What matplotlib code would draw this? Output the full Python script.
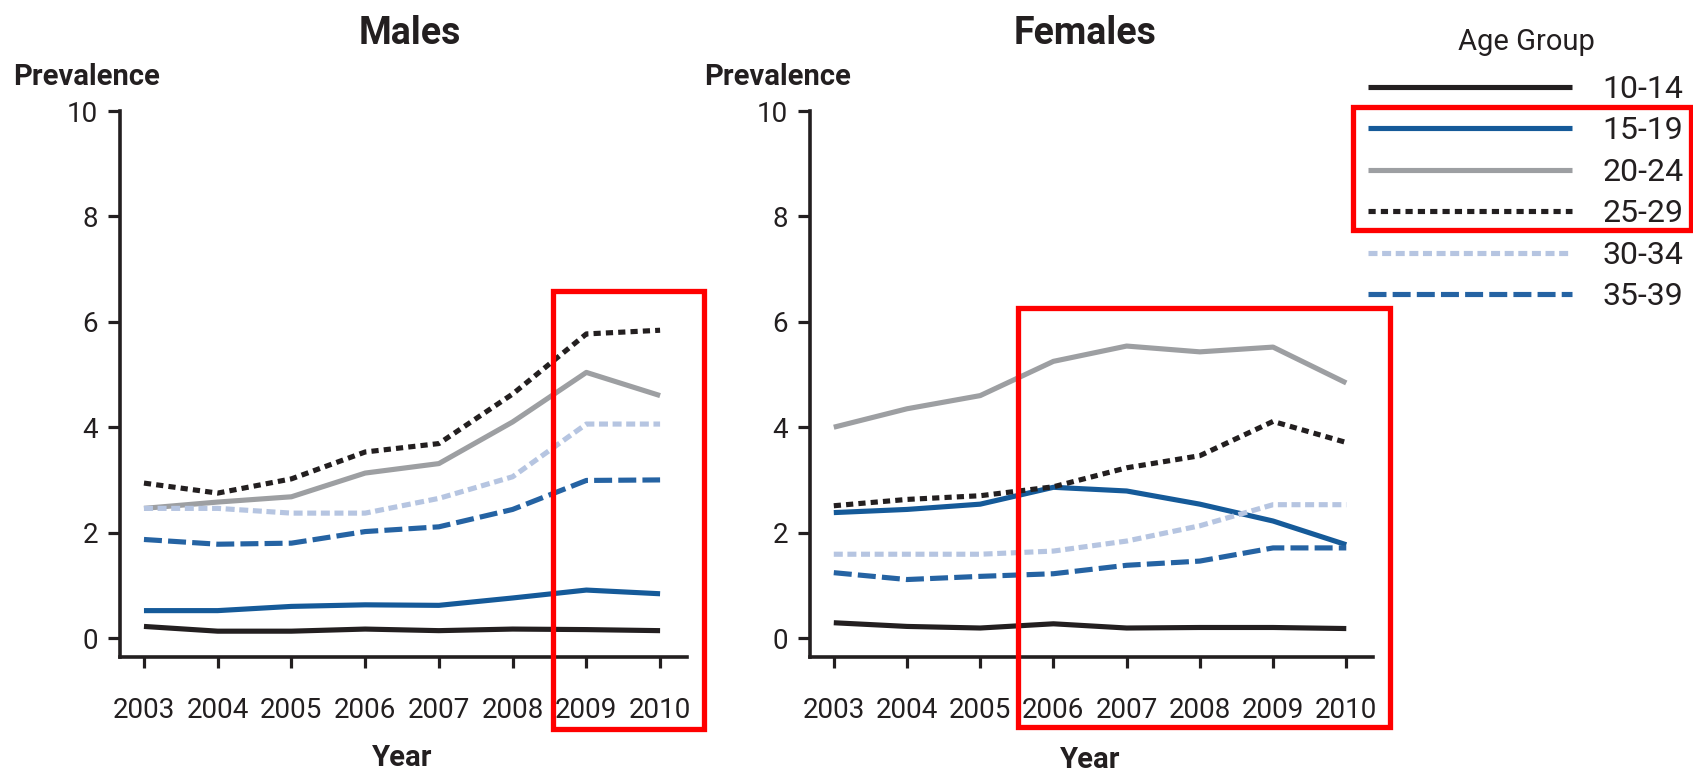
import matplotlib
matplotlib.use("Agg")
import matplotlib.pyplot as plt
from matplotlib.patches import Rectangle

years = [2003, 2004, 2005, 2006, 2007, 2008, 2009, 2010]
age_groups = ["10-14", "15-19", "20-24", "25-29", "30-34", "35-39"]

males_10_14 = [0.22, 0.13, 0.13, 0.17, 0.14, 0.17, 0.16, 0.14]
males_15_19 = [0.52, 0.52, 0.60, 0.63, 0.62, 0.76, 0.91, 0.84]
males_20_24 = [2.46, 2.58, 2.68, 3.13, 3.31, 4.10, 5.04, 4.60]
males_25_29 = [2.94, 2.75, 3.02, 3.53, 3.69, 4.63, 5.77, 5.84]
males_30_34 = [2.46, 2.46, 2.37, 2.37, 2.65, 3.06, 4.06, 4.06]
males_35_39 = [1.87, 1.78, 1.80, 2.02, 2.11, 2.44, 2.99, 3.00]

females_10_14 = [0.29, 0.22, 0.19, 0.27, 0.19, 0.20, 0.20, 0.18]
females_15_19 = [2.38, 2.44, 2.54, 2.86, 2.79, 2.54, 2.22, 1.77]
females_20_24 = [4.00, 4.35, 4.60, 5.25, 5.54, 5.43, 5.52, 4.84]
females_25_29 = [2.51, 2.63, 2.70, 2.87, 3.23, 3.46, 4.11, 3.71]
females_30_34 = [1.59, 1.59, 1.59, 1.65, 1.84, 2.13, 2.53, 2.53]
females_35_39 = [1.24, 1.11, 1.17, 1.22, 1.38, 1.46, 1.71, 1.71]

y_ticks = [0, 2, 4, 6, 8, 10]

males = [males_10_14, males_15_19, males_20_24, males_25_29, males_30_34, males_35_39]
females = [females_10_14, females_15_19, females_20_24, females_25_29, females_30_34, females_35_39]

TXT = "#231f20"
LW = 3.7
styles = [
    dict(color="#231f20", ls="-"),
    dict(color="#155a99", ls="-"),
    dict(color="#9d9fa2", ls="-"),
    dict(color="#231f20", dashes=(1.4, 1.0)),
    dict(color="#b6c5e1", dashes=(1.75, 0.9)),
    dict(color="#2563a3", dashes=(3.5, 1.2)),
]

plt.rcParams["font.family"] = ["Roboto", "DejaVu Sans"]

W, H = 1693, 772
fig = plt.figure(figsize=(W / 100, H / 100), dpi=100)

def px_axes(x0, x1, ytop, ybot):
    return fig.add_axes([x0 / W, (H - ybot) / H, (x1 - x0) / W, (ybot - ytop) / H])

def style_axes(ax):
    ax.set_xlim(2002.675, 2010.365)
    ax.set_ylim(-0.36, 10)
    ax.set_xticks(years)
    ax.set_xticklabels([str(y) for y in years])
    ax.set_yticks(y_ticks)
    for s in ["top", "right"]:
        ax.spines[s].set_visible(False)
    for s in ["left", "bottom"]:
        ax.spines[s].set_linewidth(2.6)
        ax.spines[s].set_color(TXT)
    ax.tick_params(axis="y", length=9, width=2.3, color=TXT, pad=7,
                   labelsize=20, labelcolor=TXT)
    ax.tick_params(axis="x", length=8, width=2.3, color=TXT, pad=21,
                   labelsize=20, labelcolor=TXT)
    ax.patch.set_alpha(0)

ax1 = px_axes(120, 687, 111, 657)
ax2 = px_axes(810, 1373, 111, 657)

lines = []
for ax, data in [(ax1, males), (ax2, females)]:
    style_axes(ax)
    for vals, st, lab in zip(data, styles, age_groups):
        ln, = ax.plot(years, vals, lw=LW, label=lab, solid_capstyle="butt",
                      dash_capstyle="butt", **st)
        if ax is ax1:
            lines.append(ln)

def ftext(x, y, s, **kw):
    fig.text(x / W, (H - y) / H, s, color=TXT, **kw)

ftext(410, 34, "Males", fontsize=27, fontweight="bold", ha="center", va="center")
ftext(1085, 34, "Females", fontsize=27, fontweight="bold", ha="center", va="center")
ftext(13, 77, "Prevalence", fontsize=21, fontweight="bold", ha="left", va="center")
ftext(704, 77, "Prevalence", fontsize=21, fontweight="bold", ha="left", va="center")
ftext(402, 758, "Year", fontsize=21, fontweight="bold", ha="center", va="center")
ftext(1090, 760, "Year", fontsize=21, fontweight="bold", ha="center", va="center")

leg = fig.legend(handles=lines, labels=age_groups, loc="upper left",
                 bbox_to_anchor=(1368 / W, (H - 28) / H), frameon=False,
                 fontsize=23, title="Age Group", title_fontsize=21,
                 handlelength=6.4, handletextpad=0.95, labelspacing=0.39,
                 borderpad=0, borderaxespad=0)
leg._legend_box.sep = 13.7
for t in leg.get_texts():
    t.set_color(TXT)
leg.get_title().set_color(TXT)

# red highlight boxes (annotations)
for (x0, y0, x1, y1) in [(553, 291, 704, 729), (1018, 308, 1390, 727), (1353, 107, 1691, 230)]:
    fig.patches.append(Rectangle((x0 / W, (H - y1) / H), (x1 - x0) / W, (y1 - y0) / H,
                                 transform=fig.transFigure, fill=False,
                                 edgecolor="#ff0000", lw=3.8, zorder=10))

fig.savefig("out.png", dpi=100)
